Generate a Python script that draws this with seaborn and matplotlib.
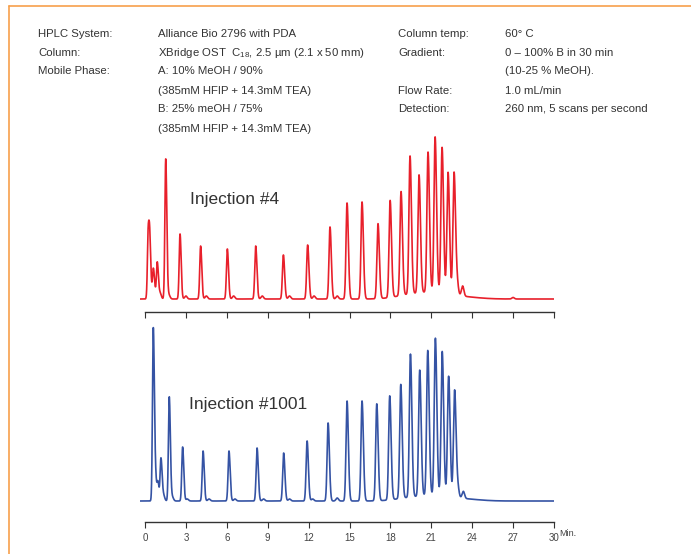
import numpy as np
import pandas as pd
import matplotlib
matplotlib.use("Agg")
import matplotlib.pyplot as plt
import seaborn as sns
from matplotlib import font_manager

# peak table: retention time (min), height (arb.)
red_times = [0.24, 0.36, 0.6, 0.9, 1.52, 2.57, 4.08, 6.04, 8.12, 10.15, 11.93, 13.57,
             14.82, 15.92, 17.09, 17.98, 18.78, 19.44, 20.1, 20.76, 21.28, 21.79, 22.23, 22.67]
red_heights = [68, 46, 26, 36, 140, 65, 53, 50, 53, 44, 54, 72,
               96, 97, 75, 97, 104, 138, 118, 140, 155, 145, 121, 122]
red_minor_t = [0.7, 1.1, 1.75, 3.0, 4.5, 6.5, 8.6, 10.6, 12.4, 14.1, 22.9, 23.3, 27.0]
red_minor_h = [8, 6, 4, 3, 3, 3, 3, 3, 3, 3, 11, 10, 1.5]
red_drift_t = [19.5, 21.5, 23.6]
red_drift_h = [4, 6, 1.5]

blue_times = [0.61, 0.78, 0.95, 1.17, 1.78, 2.76, 4.26, 6.16, 8.22, 10.17, 11.89, 13.43,
              14.82, 15.92, 17.0, 17.95, 18.76, 19.47, 20.15, 20.74, 21.3, 21.8, 22.27, 22.71]
blue_heights = [173, 20, 18, 42, 104, 54, 50, 50, 53, 48, 60, 78,
                100, 100, 97, 104, 114, 143, 126, 145, 157, 144, 120, 107]
blue_minor_t = [1.35, 2.0, 3.1, 4.7, 6.6, 8.7, 10.6, 12.3, 14.1, 22.95, 23.35]
blue_minor_h = [6, 4, 2, 2, 2, 2, 2, 2, 3, 9, 7]
blue_drift_t = [19.5, 21.5, 23.6]
blue_drift_h = [3, 5, 1.5]

tick_vals = [0, 3, 6, 9, 12, 15, 18, 21, 24, 27, 30]

header_left = [("HPLC System:", "Alliance Bio 2796 with PDA"),
               ("Column:", r"XBridge OST  C$_{18}$, 2.5 µm (2.1 x 50 mm)"),
               ("Mobile Phase:", "A: 10% MeOH / 90%"),
               ("", "(385mM HFIP + 14.3mM TEA)"),
               ("", "B: 25% meOH / 75%"),
               ("", "(385mM HFIP + 14.3mM TEA)")]
header_right = [("Column temp:", "60° C"),
                ("Gradient:", "0 – 100% B in 30 min"),
                ("", "(10-25 % MeOH)."),
                ("Flow Rate:", "1.0 mL/min"),
                ("Detection:", "260 nm, 5 scans per second")]


def trace(t, times, heights, minor_t, minor_h, drift_t, drift_h):
    y = np.zeros_like(t)
    for c, h in zip(times, heights):
        s = 0.06 + 0.001 * c
        # slight tailing
        y += h * np.where(t < c, np.exp(-0.5 * ((t - c) / s) ** 2),
                          np.exp(-0.5 * ((t - c) / (1.3 * s)) ** 2))
    for c, h in zip(minor_t, minor_h):
        y += h * np.exp(-0.5 * ((t - c) / 0.09) ** 2)
    for c, h in zip(drift_t, drift_h):
        y += h * np.exp(-0.5 * ((t - c) / 1.1) ** 2)
    return y


t = np.linspace(-0.35, 30, 6000)
red = pd.DataFrame({"time": t, "abs": trace(t, red_times, red_heights, red_minor_t,
                                            red_minor_h, red_drift_t, red_drift_h)})
blue = pd.DataFrame({"time": t, "abs": trace(t, blue_times, blue_heights, blue_minor_t,
                                             blue_minor_h, blue_drift_t, blue_drift_h)})

sns.set_style("white")
names = {f.name for f in font_manager.fontManager.ttflist}
fam = "Liberation Sans Narrow" if "Liberation Sans Narrow" in names else "Liberation Sans"
plt.rcParams["font.family"] = [fam, "DejaVu Sans"]
plt.rcParams["mathtext.fontset"] = "custom"
plt.rcParams["mathtext.rm"] = fam

W, H = 691, 554
fig = plt.figure(figsize=(W / 100, H / 100), dpi=100)

x0 = -0.4
px_per_min = 409 / 30
left = (145 + x0 * px_per_min) / W
width = (30 - x0) * px_per_min / W

# top panel: spine at y=312, baseline at 299
ax1 = fig.add_axes([left, (H - 312) / H, width, 193 / H])
ax2 = fig.add_axes([left, (H - 522) / H, width, 201 / H])

sns.lineplot(data=red, x="time", y="abs", ax=ax1, color="#e8202b", lw=1.2)
sns.lineplot(data=blue, x="time", y="abs", ax=ax2, color="#3553a4", lw=1.2)
ax1.set_ylim(-13, 180)
ax2.set_ylim(-21, 180)

for ax in (ax1, ax2):
    ax.set_xlim(x0, 30)
    ax.patch.set_alpha(0)
    for s in ("top", "right", "left"):
        ax.spines[s].set_visible(False)
    ax.spines["bottom"].set_bounds(0, 30)
    ax.spines["bottom"].set_color("#333333")
    ax.spines["bottom"].set_linewidth(1.0)
    ax.set_xticks(tick_vals)
    ax.tick_params(axis="x", bottom=True, direction="out", length=4, width=0.8,
                   color="#333333", labelsize=7, labelcolor="#444444", pad=4)
    ax.set_yticks([])
    ax.set_xlabel("")
    ax.set_ylabel("")
ax1.set_xticklabels([])
ax2.set_xticklabels([str(v) for v in tick_vals])
fig.text(559 / W, 1 - 536 / H, "Min.", fontsize=6.5, color="#444444", va="baseline", ha="left")

fig.text(190 / W, 1 - 204 / H, "Injection #4", fontsize=12.5, color="#333333", va="baseline")
fig.text(189 / W, 1 - 409 / H, "Injection #1001", fontsize=12.5, color="#333333", va="baseline")

rows = [37, 56, 74.5, 93.5, 112.5, 131.5]
for (a, b), yy in zip(header_left, rows):
    fig.text(38 / W, 1 - yy / H, a, fontsize=8.2, color="#333333", va="baseline")
    fig.text(158 / W, 1 - yy / H, b, fontsize=8.2, color="#333333", va="baseline")
for (a, b), yy in zip(header_right, rows):
    fig.text(398 / W, 1 - yy / H, a, fontsize=8.2, color="#333333", va="baseline")
    fig.text(505 / W, 1 - yy / H, b, fontsize=8.2, color="#333333", va="baseline")

# orange frame (top and left edges)
fig.add_artist(plt.Line2D([9 / W, 1], [1 - 6 / H, 1 - 6 / H], color="#f7a04b", lw=1.2))
fig.add_artist(plt.Line2D([9 / W, 9 / W], [0, 1 - 6 / H], color="#f7a04b", lw=1.2))

fig.savefig("out.png", dpi=100)
